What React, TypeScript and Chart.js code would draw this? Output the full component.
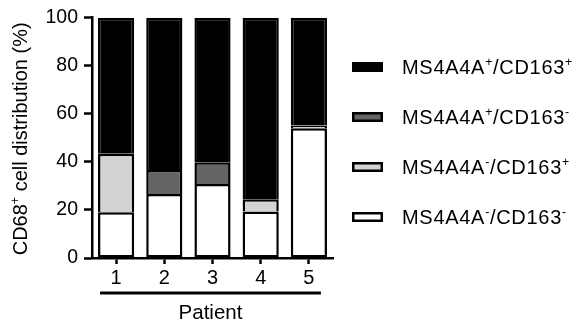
import React, { useEffect, useRef } from "react";
import { Chart, registerables } from "chart.js";
Chart.register(...registerables);

const FONT = '"Liberation Sans", Arial, Helvetica, sans-serif';

const patients = ["1", "2", "3", "4", "5"];
const negNeg = [19, 26.6, 30.8, 19.3, 54];
const negPos = [24.4, null, null, 5.1, 1.1];
const posNeg = [null, 10, 9, null, null];
const posPos = [56.6, 63.4, 60.2, 75.6, 44.9];
const yTickStep = 20;

const seriesNames = ["MS4A4A⁻/CD163⁻", "MS4A4A⁻/CD163⁺", "MS4A4A⁺/CD163⁻", "MS4A4A⁺/CD163⁺"];
const seriesColors = ["#ffffff", "#d3d3d3", "#646464", "#000000"];
const yTitle = "CD68⁺ cell distribution (%)";
const xTitle = "Patient";

type Part = { t: string; sup: boolean };
function splitRich(s: string): Part[] {
  const parts: Part[] = [];
  let cur = "";
  for (const ch of s) {
    if (ch === "⁺" || ch === "⁻") {
      if (cur) parts.push({ t: cur, sup: false });
      cur = "";
      parts.push({ t: ch === "⁺" ? "+" : "-", sup: true });
    } else cur += ch;
  }
  if (cur) parts.push({ t: cur, sup: false });
  return parts;
}

function drawRich(ctx: CanvasRenderingContext2D, s: string, x: number, y: number, size: number, align: "left" | "center", spacing = 0) {
  const parts = splitRich(s);
  const supSize = size * 0.62;
  ctx.textAlign = "left";
  ctx.textBaseline = "alphabetic";
  (ctx as any).letterSpacing = `${spacing}px`;
  const widths = parts.map((p) => {
    ctx.font = `${p.sup ? supSize : size}px ${FONT}`;
    return ctx.measureText(p.t).width;
  });
  const total = widths.reduce((a, b) => a + b, 0);
  let cx = align === "center" ? x - total / 2 : x;
  parts.forEach((p, i) => {
    ctx.font = `${p.sup ? supSize : size}px ${FONT}`;
    ctx.fillText(p.t, cx, p.sup ? y - size * 0.4 : y);
    cx += widths[i];
  });
  (ctx as any).letterSpacing = "0px";
}

const decorPlugin = {
  id: "decor",
  afterDraw(chart: any) {
    const ctx: CanvasRenderingContext2D = chart.ctx;
    const area = chart.chartArea;
    ctx.save();
    ctx.fillStyle = "#000";
    // y-axis title
    ctx.save();
    ctx.translate(27, (area.top + area.bottom) / 2 + 1);
    ctx.rotate(-Math.PI / 2);
    drawRich(ctx, yTitle, 0, 0, 20, "center");
    ctx.restore();
    // patient line + title
    const xs = chart.scales.x;
    const x0 = xs.getPixelForValue(0) - 16;
    const x1 = xs.getPixelForValue(patients.length - 1) + 12;
    ctx.fillRect(x0, 291.5, x1 - x0, 3);
    drawRich(ctx, xTitle, (x0 + x1) / 2, 319, 20.5, "center");
    // legend (top to bottom: reverse of stack order)
    const n = chart.data.datasets.length;
    for (let i = 0; i < n; i++) {
      const ds = chart.data.datasets[n - 1 - i];
      const cy = 67 + i * 50;
      const bx = 352, bw = 31, bh = 10;
      ctx.fillStyle = "#000";
      ctx.fillRect(bx, cy - bh / 2, bw, bh);
      ctx.fillStyle = ds.backgroundColor;
      ctx.fillRect(bx + 2.5, cy - bh / 2 + 2.5, bw - 5, bh - 5);
      ctx.fillStyle = "#000";
      drawRich(ctx, ds.label, 402, cy + 7, 20, "left", 0.7);
    }
    ctx.restore();
  },
};

export default function App() {
  const ref = useRef<HTMLCanvasElement>(null);
  useEffect(() => {
    const values = [negNeg, negPos, posNeg, posPos];
    const chart = new Chart(ref.current as HTMLCanvasElement, {
      type: "bar",
      data: {
        labels: patients,
        datasets: values.map((v, i) => ({
          label: seriesNames[i],
          data: v as any,
          backgroundColor: seriesColors[i],
          borderColor: "#000",
          borderWidth: 2.5,
          borderSkipped: i === 0 ? false : "start",
          barPercentage: 0.75,
          categoryPercentage: 1,
        })),
      },
      options: {
        animation: false,
        responsive: false,
        devicePixelRatio: 1,
        layout: { padding: { left: 0, top: 16, right: 247, bottom: 0 } },
        plugins: { legend: { display: false }, tooltip: { enabled: false }, title: { display: false } },
        scales: {
          x: {
            stacked: true,
            offset: true,
            grid: { offset: false, drawOnChartArea: false, drawTicks: true, tickLength: 6, tickWidth: 2.5, tickColor: "#000" },
            border: { display: true, color: "#000", width: 2.5 },
            ticks: { color: "#000", font: { family: FONT, size: 20 }, padding: 2, maxRotation: 0 },
            afterFit: (s: any) => { s.height = 64; },
          },
          y: {
            stacked: true,
            min: 0,
            max: 100,
            ticks: { stepSize: yTickStep, color: "#000", font: { family: FONT, size: 19.5 }, padding: 6 },
            grid: { drawOnChartArea: false, drawTicks: true, tickLength: 8, tickWidth: 2.5, tickColor: "#000" },
            border: { display: true, color: "#000", width: 2.5 },
            afterFit: (s: any) => { s.width = 92; },
          },
        },
      } as any,
      plugins: [decorPlugin],
    });
    return () => chart.destroy();
  }, []);
  return (
    <div style={{ position: "absolute", left: 0, top: 0, width: 580, height: 322, background: "#fff" }}>
      <canvas ref={ref} width={580} height={322} style={{ width: 580, height: 322 }} />
    </div>
  );
}
